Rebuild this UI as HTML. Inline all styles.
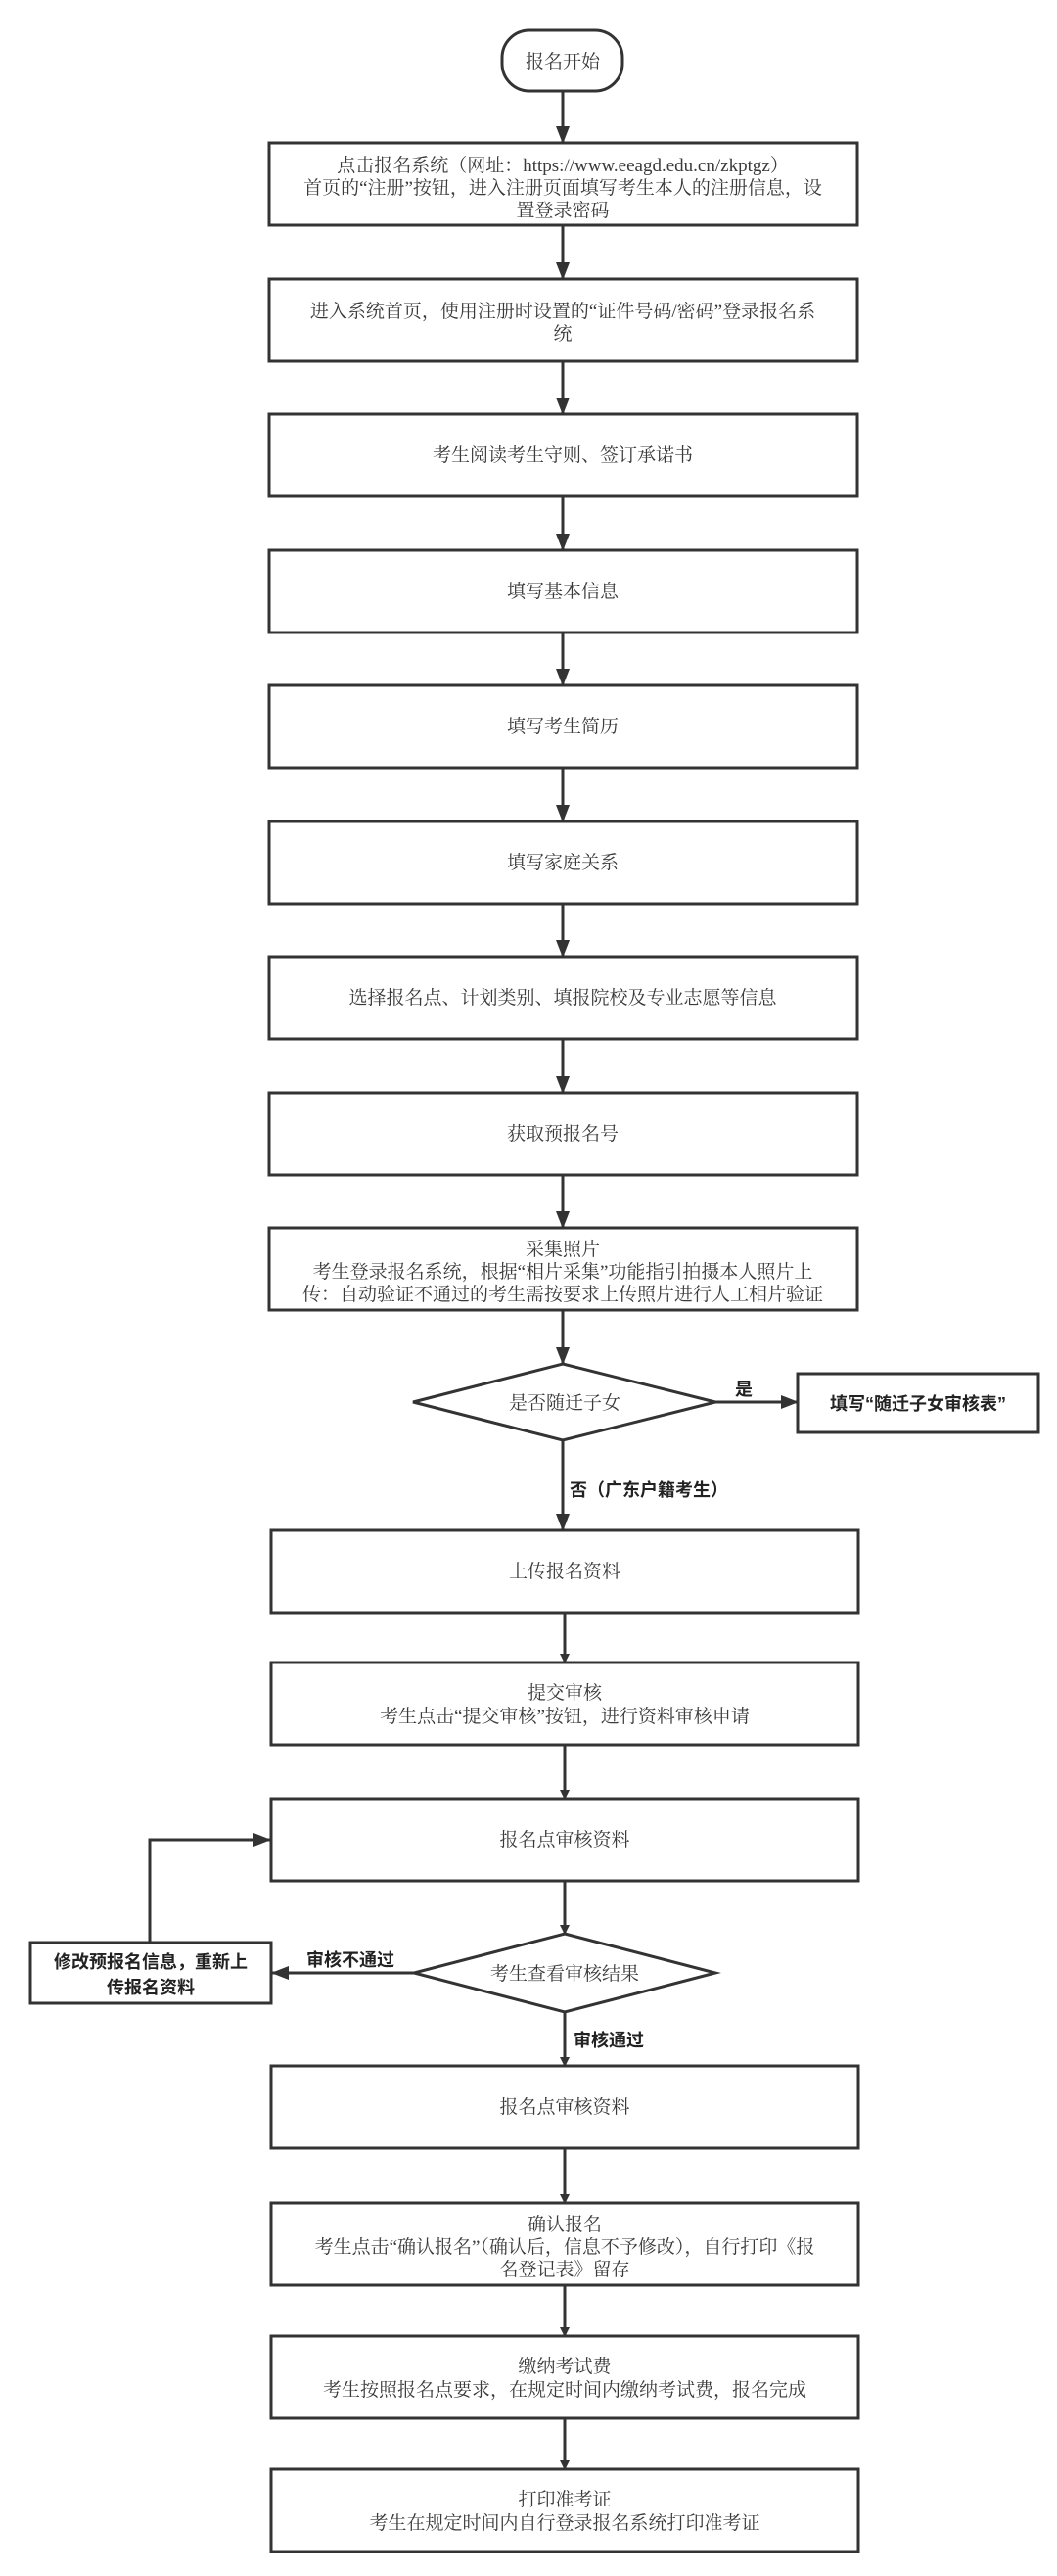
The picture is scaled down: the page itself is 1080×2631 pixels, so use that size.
<!DOCTYPE html>
<html><head><meta charset="utf-8"><style>
html,body{margin:0;padding:0;background:#fff}
svg{display:block}
.t{font-family:"Liberation Serif","Noto Serif CJK SC",serif;font-size:19px;fill:#3a3a3a;text-anchor:middle}
.b{font-family:"Liberation Sans","Noto Sans CJK SC",sans-serif;font-size:18px;font-weight:bold;fill:#222}
.r{fill:#fff;stroke:#333;stroke-width:3}
.l{stroke:#333;stroke-width:3;fill:none}
</style></head><body>
<svg width="1080" height="2631" viewBox="0 0 1080 2631" xmlns="http://www.w3.org/2000/svg">
<defs><marker id="a" markerWidth="10" markerHeight="10" refX="9" refY="5" orient="auto" markerUnits="userSpaceOnUse" viewBox="0 0 10 10"><path d="M0,0 L10,5 L0,10z" fill="#333"/></marker>
<marker id="A" markerWidth="18" markerHeight="18" refX="17" refY="9" orient="auto" markerUnits="userSpaceOnUse" viewBox="0 0 18 18"><path d="M0,2 L18,9 L0,16z" fill="#333"/></marker></defs>

<rect class="r" x="513" y="31" width="123" height="62" rx="28"/>
<text class="t" x="575" y="69">报名开始</text>

<!-- top boxes -->
<g>
<rect class="r" x="275" y="146" width="601" height="84"/>
<text class="t" x="575" y="175">点击报名系统（网址：https://www.eeagd.edu.cn/zkptgz）</text>
<text class="t" x="575" y="198">首页的“注册”按钮，进入注册页面填写考生本人的注册信息，设</text>
<text class="t" x="575" y="221">置登录密码</text>

<rect class="r" x="275" y="285" width="601" height="84"/>
<text class="t" x="575" y="324">进入系统首页，使用注册时设置的“证件号码/密码”登录报名系</text>
<text class="t" x="575" y="347">统</text>

<rect class="r" x="275" y="423" width="601" height="84"/>
<text class="t" x="575" y="471">考生阅读考生守则、签订承诺书</text>

<rect class="r" x="275" y="562" width="601" height="84"/>
<text class="t" x="575" y="610">填写基本信息</text>

<rect class="r" x="275" y="700" width="601" height="84"/>
<text class="t" x="575" y="748">填写考生简历</text>

<rect class="r" x="275" y="839" width="601" height="84"/>
<text class="t" x="575" y="887">填写家庭关系</text>

<rect class="r" x="275" y="977" width="601" height="84"/>
<text class="t" x="575" y="1025">选择报名点、计划类别、填报院校及专业志愿等信息</text>

<rect class="r" x="275" y="1116" width="601" height="84"/>
<text class="t" x="575" y="1164">获取预报名号</text>

<rect class="r" x="275" y="1254" width="601" height="84"/>
<text class="t" x="575" y="1282">采集照片</text>
<text class="t" x="575" y="1305">考生登录报名系统，根据“相片采集”功能指引拍摄本人照片上</text>
<text class="t" x="575" y="1328">传：自动验证不通过的考生需按要求上传照片进行人工相片验证</text>
</g>

<!-- arrows top -->
<line class="l" x1="575" y1="93" x2="575" y2="146" marker-end="url(#A)"/>
<line class="l" x1="575" y1="230" x2="575" y2="285" marker-end="url(#A)"/>
<line class="l" x1="575" y1="369" x2="575" y2="423" marker-end="url(#A)"/>
<line class="l" x1="575" y1="507" x2="575" y2="562" marker-end="url(#A)"/>
<line class="l" x1="575" y1="646" x2="575" y2="700" marker-end="url(#A)"/>
<line class="l" x1="575" y1="784" x2="575" y2="839" marker-end="url(#A)"/>
<line class="l" x1="575" y1="923" x2="575" y2="977" marker-end="url(#A)"/>
<line class="l" x1="575" y1="1061" x2="575" y2="1116" marker-end="url(#A)"/>
<line class="l" x1="575" y1="1200" x2="575" y2="1254" marker-end="url(#A)"/>
<line class="l" x1="575" y1="1338" x2="575" y2="1393" marker-end="url(#A)"/>

<!-- diamond 1 -->
<polygon class="r" points="575,1393 731,1432 575,1471 422,1432"/>
<text class="t" x="577" y="1439">是否随迁子女</text>
<line class="l" x1="731" y1="1432" x2="815" y2="1432" marker-end="url(#A)"/>
<text class="b" x="751" y="1425">是</text>
<rect class="r" x="815" y="1403" width="246" height="60"/>
<text class="b" x="938" y="1440" text-anchor="middle">填写“随迁子女审核表”</text>
<line class="l" x1="575" y1="1471" x2="575" y2="1563" marker-end="url(#A)"/>
<text class="b" x="582" y="1528">否（广东户籍考生）</text>

<rect class="r" x="277" y="1563" width="600" height="84"/>
<text class="t" x="577" y="1611">上传报名资料</text>
<line class="l" x1="577" y1="1647" x2="577" y2="1698" marker-end="url(#a)"/>

<rect class="r" x="277" y="1698" width="600" height="84"/>
<text class="t" x="577" y="1735">提交审核</text>
<text class="t" x="577" y="1759">考生点击“提交审核”按钮，进行资料审核申请</text>
<line class="l" x1="577" y1="1782" x2="577" y2="1837" marker-end="url(#a)"/>

<rect class="r" x="277" y="1837" width="600" height="84"/>
<text class="t" x="577" y="1885">报名点审核资料</text>
<line class="l" x1="577" y1="1921" x2="577" y2="1975" marker-end="url(#a)"/>

<polygon class="r" points="577,1975 731,2015 577,2055 423,2015"/>
<text class="t" x="577" y="2022">考生查看审核结果</text>
<line class="l" x1="423" y1="2015" x2="278" y2="2015" marker-end="url(#A)"/>
<text class="b" x="313" y="2008">审核不通过</text>
<rect class="r" x="31" y="1984" width="246" height="62"/>
<text class="b" x="154" y="2010" text-anchor="middle">修改预报名信息，重新上</text>
<text class="b" x="154" y="2036" text-anchor="middle">传报名资料</text>
<polyline class="l" points="153,1984 153,1879 276,1879" marker-end="url(#A)"/>
<line class="l" x1="577" y1="2055" x2="577" y2="2110" marker-end="url(#a)"/>
<text class="b" x="586" y="2090">审核通过</text>

<rect class="r" x="277" y="2110" width="600" height="84"/>
<text class="t" x="577" y="2158">报名点审核资料</text>
<line class="l" x1="577" y1="2194" x2="577" y2="2250" marker-end="url(#a)"/>

<rect class="r" x="277" y="2250" width="600" height="84"/>
<text class="t" x="577" y="2278">确认报名</text>
<text class="t" x="577" y="2301">考生点击“确认报名”（确认后，信息不予修改），自行打印《报</text>
<text class="t" x="577" y="2324">名登记表》留存</text>
<line class="l" x1="577" y1="2334" x2="577" y2="2386" marker-end="url(#a)"/>

<rect class="r" x="277" y="2386" width="600" height="84"/>
<text class="t" x="577" y="2423">缴纳考试费</text>
<text class="t" x="577" y="2447">考生按照报名点要求，在规定时间内缴纳考试费，报名完成</text>
<line class="l" x1="577" y1="2470" x2="577" y2="2522" marker-end="url(#a)"/>

<rect class="r" x="277" y="2522" width="600" height="84"/>
<text class="t" x="577" y="2559">打印准考证</text>
<text class="t" x="577" y="2583">考生在规定时间内自行登录报名系统打印准考证</text>
</svg>
</body></html>
